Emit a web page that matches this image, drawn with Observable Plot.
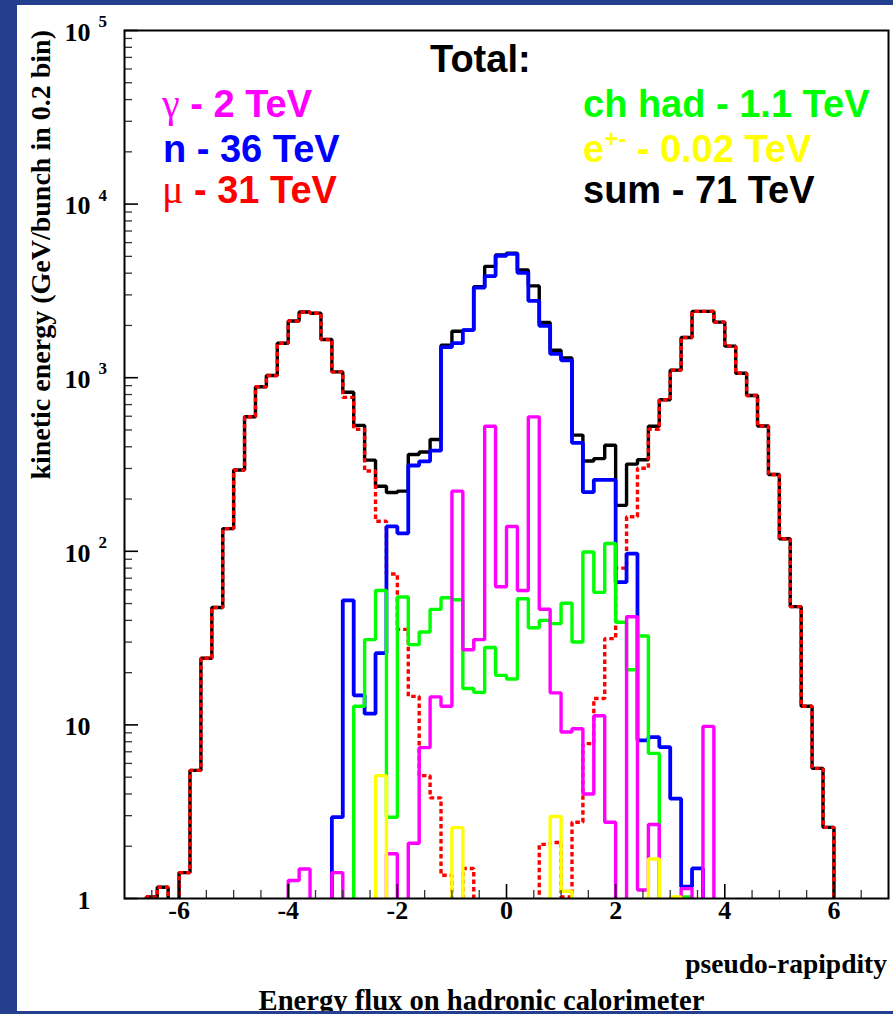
<!DOCTYPE html>
<html><head><meta charset="utf-8">
<script src="https://cdn.jsdelivr.net/npm/d3@7"></script>
<script src="https://cdn.jsdelivr.net/npm/@observablehq/plot@0.6"></script>
<style>
html,body{margin:0;padding:0;background:#243f8e;width:893px;height:1014px;overflow:hidden;}
#panel{position:absolute;left:17px;top:5px;width:876px;height:1006px;background:#fff;}
#chart{position:absolute;left:0;top:0;}
#bottom{position:absolute;left:0;top:1011px;width:893px;height:3px;background:#243f8e;}
</style></head><body>
<div id="panel"></div><div id="chart"></div><div id="bottom"></div>
<script>
// bin edges of pseudo-rapidity (0.2 bins), 71 edges -> 70 bins
const binEdges = [-7,-6.8,-6.6,-6.4,-6.2,-6,-5.8,-5.6,-5.4,-5.2,-5,-4.8,-4.6,-4.4,-4.2,-4,-3.8,-3.6,-3.4,-3.2,-3,-2.8,-2.6,-2.4,-2.2,-2,-1.8,-1.6,-1.4,-1.2,-1,-0.8,-0.6,-0.4,-0.2,0,0.2,0.4,0.6,0.8,1,1.2,1.4,1.6,1.8,2,2.2,2.4,2.6,2.8,3,3.2,3.4,3.6,3.8,4,4.2,4.4,4.6,4.8,5,5.2,5.4,5.6,5.8,6,6.2,6.4,6.6,6.8,7];

const sumE = [0,0,1.02,1.16,0,1.41,5.47,24.2,47.5,135,294,596,887,1030,1580,2120,2390,2350,1660,1080,825,531,335,237,218,222,361,373,441,1540,1850,1880,3340,4380,5100,5220,4170,3380,2080,1440,1300,467,331,342,408,184,318,337,525,746,1105,1706,2410,2410,2090,1520,1060,790,527,277,118,48,12.8,5.62,2.57,0,0,0,0,0];
const muonE = [0,0,1.02,1.16,0,1.41,5.47,24.2,47.5,135,294,596,887,1030,1580,2120,2390,2350,1660,1080,770,505,290,149,74,35.5,14.6,5.1,3.8,1.36,0,1.49,0,0,0,0,0,0,2.05,2.1,1.02,2.75,7.8,14.2,31.4,80,158,301,505,746,1105,1706,2410,2410,2090,1520,1060,790,527,277,118,48,12.8,5.62,2.57,0,0,0,0,0];
const neutronE = [0,0,0,0,0,0,0,0,0,0,0,0,0,0,0,0,0,0,0,2.94,52.2,14.8,11.6,25.9,139,127,312,330,380,1500,1580,1880,3300,3850,5040,5170,4020,2770,1990,1370,1260,421,219,258,258,66.4,97,8.15,8.5,7.45,3.76,1.17,1.49,0,0,0,0,0,0,0,0,0,0,0,0,0,0,0,0,0];
const chHadE = [0,0,0,0,0,0,0,0,0,0,0,0,0,0,0,0,0,0,0,0,0,12.8,31,59.5,2.94,54.5,29,34.3,46.3,54,52.6,16.2,15.4,27.9,19.3,18.4,53.3,36.3,40,38.3,50.2,30,99,58,111,39,20.8,32.5,6.85,0,0,1.02,0,0,0,0,0,0,0,0,0,0,0,0,0,0,0,0,0,0];
const gammaE = [0,0,0,0,0,0,0,0,0,0,0,0,0,0,0,1.27,1.48,0,0,1.41,0,0,0,0,1.81,0,2.08,7.4,14.5,12.8,222,27.1,31,525,62.5,139,59.5,595,46.4,15.3,9.1,9.5,4.0,11.3,2.75,0,42,1.12,2.67,0,0,1.14,0,9.8,0,0,0,0,0,0,0,0,0,0,0,0,0,0,0,0];
const electronE = [0,0,0,0,0,0,0,0,0,0,0,0,0,0,0,0,0,0,0,0,0,0,0,5.1,0,0,0,0,0,0,2.56,0,0,0,0,0,0,0,0,2.97,1.1,0,0,0,0,0,0,0,1.69,0,1.02,0,0,0,0,0,0,0,0,0,0,0,0,0,0,0,0,0,0,0];

const seriesNames = ["sum","mu","n","chhad","gamma","e"];
const seriesValues = [sumE, muonE, neutronE, chHadE, gammaE, electronE];
const seriesColors = ["#000000","#ff0000","#0000ff","#00ff00","#ff00ff","#ffff00"];
const seriesWidths = [3.4, 3.4, 3.8, 3.4, 3.4, 3.4];
const seriesDash = [null, "4.5,3", null, null, null, null];

const yMajorTicks = [1,10,100,1000,10000,100000];
const yMajorBase = ["1","10","10","10","10","10"];
const yMajorExp = ["","","2","3","4","5"];
const yMinorTicks = [2,3,4,5,6,7,8,9,20,30,40,50,60,70,80,90,200,300,400,500,600,700,800,900,2000,3000,4000,5000,6000,7000,8000,9000,20000,30000,40000,50000,60000,70000,80000,90000];
const xMajorTicks = [-6,-4,-2,0,2,4,6];
const xMajorLabels = ["-6","-4","-2","0","2","4","6"];
const xMinorTicks = [-6.5,-5.5,-5,-4.5,-3.5,-3,-2.5,-1.5,-1,-0.5,0.5,1,1.5,2.5,3,3.5,4.5,5,5.5,6.5];

// histogram outline table: each bin's low edge plus a closing point at the last edge
function histRows(values) {
  const rows = values.map((v, i) => ({x: binEdges[i], v}));
  rows.push({x: binEdges[binEdges.length - 1], v: values[values.length - 1]});
  return rows;
}
const yOf = d => (d.v > 0 ? d.v : 0.05);

const serif = "'Liberation Serif','Times New Roman',serif";
const sans = "'Liberation Sans',Arial,sans-serif";

const lineMarks = seriesValues.map((vals, k) => Plot.line(histRows(vals), {
  x: "x", y: yOf, curve: "step-after", clip: true,
  stroke: seriesColors[k], strokeWidth: seriesWidths[k],
  strokeDasharray: seriesDash[k] || undefined,
  strokeLinejoin: "miter", strokeLinecap: "butt"
}));

const chart = Plot.plot({
  width: 893, height: 1014,
  marginLeft: 124, marginRight: 5, marginTop: 30, marginBottom: 116,
  style: {background: "transparent", overflow: "visible"},
  x: {domain: [-7, 7]},
  y: {type: "log", domain: [1, 1e5]},
  marks: [
    ...lineMarks,
    Plot.axisY({ticks: yMajorTicks, tickSize: 14, dx: 14, fill: "none", label: null, stroke: "#000", strokeWidth: 1.6}),
    Plot.axisY({ticks: yMinorTicks, tickSize: 8, dx: 8, fill: "none", label: null, stroke: "#333", strokeWidth: 1.3}),
    Plot.axisX({ticks: xMajorTicks, tickSize: 14, dy: -14, fill: "none", label: null, stroke: "#000", strokeWidth: 1.6}),
    Plot.axisX({ticks: xMinorTicks, tickSize: 8, dy: -8, fill: "none", label: null, stroke: "#333", strokeWidth: 1.3}),
    Plot.text(yMajorTicks, {y: d => d, text: (d, i) => yMajorBase[i], frameAnchor: "left", dx: -34, dy: 2,
      textAnchor: "end", fontFamily: serif, fontWeight: "bold", fontSize: 26, fill: "#000"}),
    Plot.text(yMajorTicks, {y: d => d, text: (d, i) => yMajorExp[i], frameAnchor: "left", dx: -26, dy: -9,
      textAnchor: "start", fontFamily: serif, fontWeight: "bold", fontSize: 17, fill: "#000"}),
    Plot.text(xMajorTicks, {x: d => d, text: (d, i) => xMajorLabels[i], frameAnchor: "bottom", dy: 20,
      fontFamily: serif, fontWeight: "bold", fontSize: 26, fill: "#000"}),
    Plot.frame({stroke: "#000", strokeWidth: 2})
  ]
});
document.getElementById("chart").appendChild(chart);

const svg = d3.select(chart);
const g = svg.append("g").attr("text-anchor", "start");

// axis titles
g.append("text").attr("transform", "translate(50,30) rotate(-90)")
  .attr("text-anchor", "end").attr("font-family", serif).attr("font-weight", "bold")
  .attr("font-size", 28).attr("fill", "#000")
  .text("kinetic energy (GeV/bunch in 0.2 bin)");
g.append("text").attr("x", 887).attr("y", 973).attr("text-anchor", "end")
  .attr("font-family", serif).attr("font-weight", "bold").attr("font-size", 27.5).attr("fill", "#000")
  .text("pseudo-rapipdity");
g.append("text").attr("x", 481.5).attr("y", 1010).attr("text-anchor", "middle")
  .attr("font-family", serif).attr("font-weight", "bold").attr("font-size", 28.6).attr("fill", "#000")
  .text("Energy flux on hadronic calorimeter");

// legend
function legendLine(x, y, color, parts) {
  const t = g.append("text").attr("x", x).attr("y", y).attr("fill", color)
    .attr("text-anchor", "start")
    .attr("font-family", sans).attr("font-weight", "bold").attr("font-size", 38);
  for (const p of parts) {
    const s = t.append("tspan").text(p.text);
    if (p.greek) s.attr("font-family", serif).attr("font-weight", "normal").attr("font-size", 40);
    if (p.size) s.attr("font-size", p.size);
    if (p.dy) s.attr("dy", p.dy);
  }
}
legendLine(430, 72, "#000", [{text: "Total:"}]);
legendLine(162, 117, "#ff00ff", [{text: "\u03b3", greek: true}, {text: " - 2 TeV"}]);
legendLine(163, 161.7, "#0000ff", [{text: "n - 36 TeV"}]);
legendLine(162, 203, "#ff0000", [{text: "\u03bc", greek: true}, {text: " - 31 TeV"}]);
legendLine(583, 117, "#00ff00", [{text: "ch had - 1.1 TeV"}]);
legendLine(583, 161.7, "#ffff00", [{text: "e"}, {text: "+-", size: 24, dy: -15}, {text: " - 0.02 TeV", size: 38, dy: 15}]);
legendLine(583, 203, "#000", [{text: "sum - 71 TeV"}]);
</script>
</body></html>
